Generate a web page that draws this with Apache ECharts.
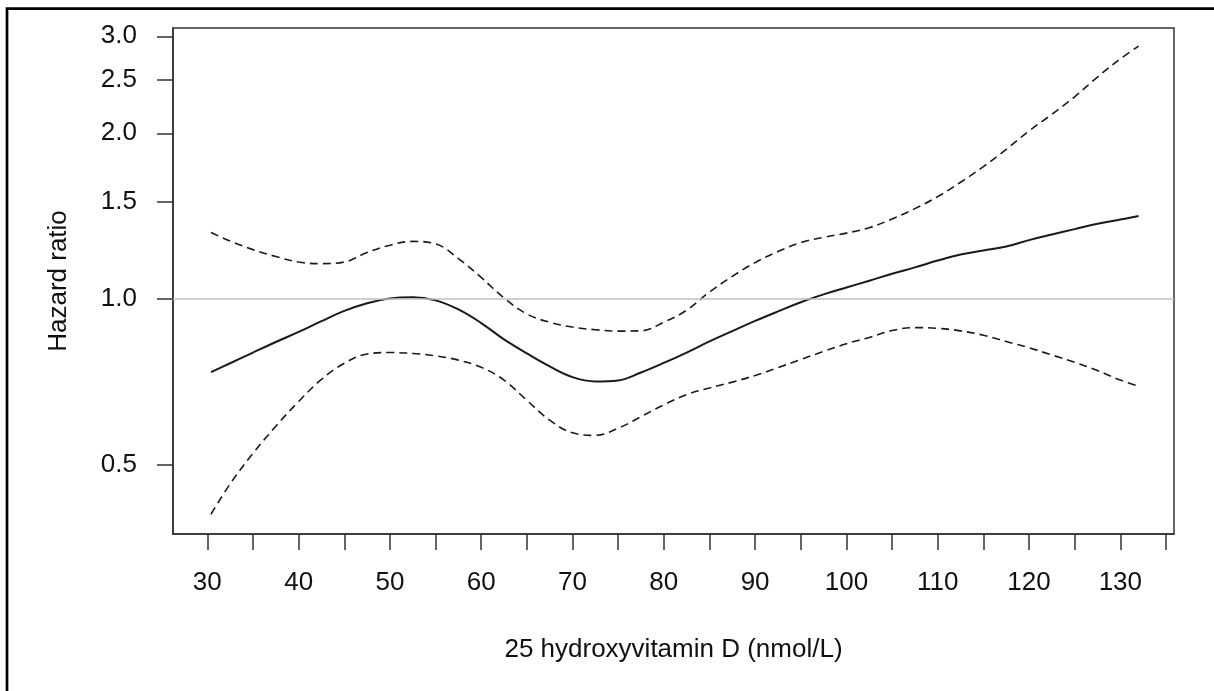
<!DOCTYPE html>
<html>
    <head>
        <meta charset='utf-8'>
        <title>Hazard ratio</title>
        <style>
            html, body { margin: 0; padding: 0; background: #fff; }
            #chart { width: 1214px; height: 691px; }
        </style>
        <script type="text/javascript" src="https://cdn.jsdelivr.net/npm/echarts@6/dist/echarts.min.js"></script>
    </head>
    <body>
        <div id="chart"></div>
    </body>
    <script type="text/javascript">
        // 25(OH)D values, nmol/L
        var vitD = [30.4, 32.5, 35, 37.5, 40, 42.5, 45, 47.5, 50, 52.5,
            55, 57.5, 60, 62.5, 65, 67.5, 70, 72.5, 75, 77.5,
            80, 82.5, 85, 87.5, 90, 92.5, 95, 97.5, 100, 102.5,
            105, 107.5, 110, 112.5, 115, 117.5, 120, 122.5, 125, 127.5,
            130, 132];
        var hrEstimate = [0.737, 0.765, 0.800, 0.836, 0.872, 0.912, 0.952, 0.983, 1.003, 1.008,
            0.995, 0.958, 0.905, 0.845, 0.797, 0.755, 0.722, 0.709, 0.712, 0.736,
            0.766, 0.800, 0.838, 0.875, 0.913, 0.950, 0.987, 1.020, 1.050, 1.080,
            1.112, 1.142, 1.175, 1.205, 1.226, 1.246, 1.280, 1.310, 1.340, 1.370,
            1.395, 1.415];
        var hrUpper = [1.321, 1.275, 1.230, 1.195, 1.168, 1.160, 1.168, 1.215, 1.253, 1.273,
            1.260, 1.185, 1.095, 1.005, 0.940, 0.908, 0.890, 0.880, 0.875, 0.876,
            0.908, 0.955, 1.030, 1.100, 1.165, 1.220, 1.267, 1.295, 1.318, 1.348,
            1.398, 1.460, 1.535, 1.630, 1.740, 1.870, 2.020, 2.165, 2.330, 2.530,
            2.730, 2.880];
        var hrLower = [0.407, 0.462, 0.525, 0.588, 0.652, 0.715, 0.765, 0.795, 0.800, 0.797,
            0.789, 0.775, 0.752, 0.713, 0.655, 0.603, 0.572, 0.566, 0.583, 0.612,
            0.643, 0.671, 0.690, 0.707, 0.727, 0.751, 0.777, 0.804, 0.830, 0.852,
            0.877, 0.888, 0.885, 0.876, 0.860, 0.838, 0.816, 0.792, 0.768, 0.742,
            0.713, 0.695];
        var xTicks = [30, 35, 40, 45, 50, 55, 60, 65, 70, 75, 80, 85, 90, 95, 100, 105, 110, 115, 120, 125, 130, 135];
        var xLabels = [30, 40, 50, 60, 70, 80, 90, 100, 110, 120, 130];
        var yLabels = [0.5, 1.0, 1.5, 2.0, 2.5, 3.0];

        // y axis is drawn on a log scale: plot ln(HR)
        function toPoints(arr) {
            return vitD.map(function (x, i) { return [x, Math.log(arr[i])]; });
        }
        var yLogTicks = yLabels.map(function (v) { return Math.log(v); });
        var fontFamily = "'Liberation Sans', Arial, sans-serif";
        var lineColor = '#1a1a1a';

        var chart = echarts.init(document.getElementById('chart'));
        var option = {
            backgroundColor: '#fff',
            animation: false,
            graphic: [{
                type: 'rect',
                shape: {x: 7, y: 8.7, width: 1400, height: 900},
                style: {fill: 'none', stroke: '#000', lineWidth: 2.7},
                silent: true
            }],
            grid: {
                left: 173, right: 40, top: 28, bottom: 157,
                show: true, borderColor: '#333', borderWidth: 1.5
            },
            xAxis: {
                type: 'value',
                min: 26.24,
                max: 135.88,
                name: '25 hydroxyvitamin D (nmol/L)',
                nameLocation: 'middle',
                nameGap: 103,
                nameTextStyle: {color: '#111', fontSize: 26, fontFamily: fontFamily},
                axisLine: {show: true, onZero: false, lineStyle: {color: '#333', width: 1.5}},
                axisTick: {show: true, length: 16, customValues: xTicks, lineStyle: {color: '#333', width: 1.5}},
                axisLabel: {customValues: xLabels, margin: 36, color: '#111', fontSize: 26, fontFamily: fontFamily},
                splitLine: {show: false}
            },
            yAxis: {
                type: 'value',
                min: -0.9815,
                max: 1.1333,
                name: 'Hazard ratio',
                nameLocation: 'middle',
                nameRotate: 90,
                nameGap: 101,
                nameTextStyle: {color: '#111', fontSize: 26, fontFamily: fontFamily},
                axisLine: {show: true, onZero: false, lineStyle: {color: '#333', width: 1.5}},
                axisTick: {show: true, length: 16, customValues: yLogTicks, lineStyle: {color: '#333', width: 1.5}},
                axisLabel: {
                    customValues: yLogTicks, margin: 36, color: '#111', fontSize: 26, fontFamily: fontFamily,
                    formatter: function (v) { return Math.exp(v).toFixed(1); }
                },
                splitLine: {show: false}
            },
            series: [
                {
                    name: 'ref', type: 'line', data: [], z: 1, silent: true,
                    markLine: {
                        silent: true, symbol: 'none', label: {show: false},
                        lineStyle: {color: '#c0c0c0', type: 'solid', width: 1.5},
                        data: [{yAxis: 0}]
                    }
                },
                {
                    name: 'Estimate', type: 'line', data: toPoints(hrEstimate), z: 3,
                    showSymbol: false, smooth: 0.4,
                    lineStyle: {color: lineColor, width: 2, type: 'solid'}
                },
                {
                    name: 'Upper', type: 'line', data: toPoints(hrUpper), z: 2,
                    showSymbol: false, smooth: 0.4,
                    lineStyle: {color: lineColor, width: 1.6, type: [8, 5]}
                },
                {
                    name: 'Lower', type: 'line', data: toPoints(hrLower), z: 2,
                    showSymbol: false, smooth: 0.4,
                    lineStyle: {color: lineColor, width: 1.6, type: [8, 5]}
                }
            ]
        };
        chart.setOption(option);
    </script>
</html>
